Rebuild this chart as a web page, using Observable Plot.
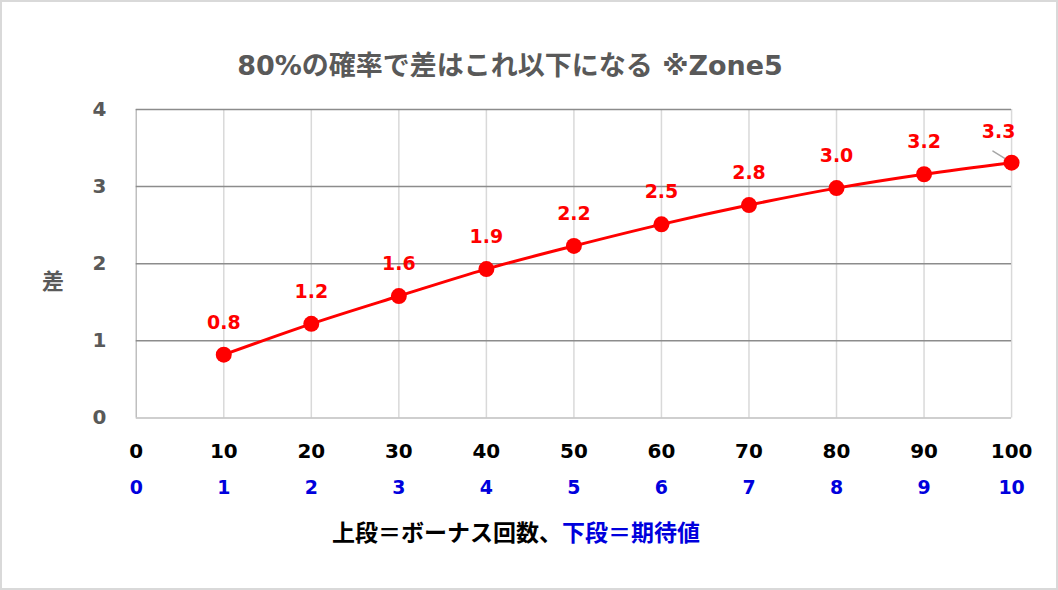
<!DOCTYPE html>
<html>
<head>
<meta charset="utf-8">
<script src="https://cdn.jsdelivr.net/npm/d3@7"></script>
<script src="https://cdn.jsdelivr.net/npm/@observablehq/plot@0.6"></script>
<style>
  html, body { margin: 0; padding: 0; background: #fff; }
  #wrap { position: relative; width: 1058px; height: 590px; box-sizing: border-box; border: 2px solid #d9d9d9; overflow: hidden;
    font-family: "DejaVu Sans", "Noto Sans CJK JP", sans-serif; font-weight: bold; }
  #title { position: absolute; left: 0; width: 1016px; top: 44px; text-align: center; font-size: 27px; color: #595959; line-height: 40px; }
  #ylabel { position: absolute; left: 40px; top: 261px; font-size: 22px; color: #595959; font-family: "Noto Sans CJK JP", sans-serif; }
  #chart { position: absolute; left: -2px; top: 88px; }
  #caption { position: absolute; left: 0; width: 1028px; top: 511px; text-align: center; font-size: 23px; line-height: 36px; font-family: "Noto Sans CJK JP", sans-serif; }
</style>
</head>
<body>
<div id="wrap">
  <div id="title">80%の確率で差はこれ以下になる ※Zone5</div>
  <div id="ylabel">差</div>
  <div id="chart"></div>
  <div id="caption"><span style="color:#000">上段＝ボーナス回数、</span><span style="color:#0000dd">下段＝期待値</span></div>
</div>
<script>
// ---- data ----
const bonusTicks = [0, 10, 20, 30, 40, 50, 60, 70, 80, 90, 100];   // 上段 = ボーナス回数
const expectedTicks = [0, 1, 2, 3, 4, 5, 6, 7, 8, 9, 10];          // 下段 = 期待値
const yTicks = [0, 1, 2, 3, 4];
const bonusCounts = [10, 20, 30, 40, 50, 60, 70, 80, 90, 100];
const diffValues = [0.82, 1.22, 1.58, 1.93, 2.23, 2.51, 2.76, 2.98, 3.16, 3.31];

const points = bonusCounts.map((b, i) => ({ x: b, y: diffValues[i], label: diffValues[i].toFixed(1) }));
const tickPairs = bonusTicks.map((b, i) => ({ x: b, e: expectedTicks[i] }));

const red = "#ff0000";
const font = `"DejaVu Sans", "Noto Sans CJK JP", sans-serif`;

const chart = Plot.plot({
  width: 1058,
  height: 420,
  marginTop: 19,
  marginBottom: 92,
  marginLeft: 136,
  marginRight: 45,
  x: { domain: [0, 100], axis: null },
  y: { domain: [0, 4], axis: null },
  style: { fontFamily: font, fontWeight: "bold", background: "transparent", overflow: "visible" },
  marks: [
    Plot.ruleX(bonusTicks.slice(1), { stroke: "#d9d9d9", strokeWidth: 1.5 }),
    Plot.ruleX([0], { stroke: "#bfbfbf", strokeWidth: 1.5 }),
    Plot.ruleY(yTicks.slice(1), { stroke: "#8c8c8c", strokeWidth: 1.5 }),
    Plot.ruleY([0], { stroke: "#bfbfbf", strokeWidth: 1.5 }),
    Plot.text(yTicks, { y: d => d, frameAnchor: "left", dx: -30, textAnchor: "end", text: d => String(d), fill: "#595959", fontSize: 20, fontWeight: "bold" }),
    Plot.text(tickPairs, { x: "x", frameAnchor: "bottom", dy: 40, text: d => String(d.x), fill: "#000", fontSize: 20, fontWeight: "bold" }),
    Plot.text(tickPairs, { x: "x", frameAnchor: "bottom", dy: 76, text: d => String(d.e), fill: "#0000dd", fontSize: 19, fontWeight: "bold" }),
    Plot.line(points, { x: "x", y: "y", stroke: red, strokeWidth: 3, curve: "catmull-rom" }),
    Plot.vector(points.slice(-1), { x: "x", y: "y", rotate: -58, length: 22, anchor: "start", stroke: "#a6a6a6", strokeWidth: 1.5, shape: { draw(ctx, l) { ctx.moveTo(0, 0); ctx.lineTo(0, -l); } } }),
    Plot.dot(points, { x: "x", y: "y", r: 8, fill: red }),
    Plot.text(points.slice(0, -1), { x: "x", y: "y", text: "label", dy: -32, fill: red, fontSize: 19, fontWeight: "bold" }),
    Plot.text(points.slice(-1), { x: "x", y: "y", text: "label", dx: -13, dy: -31, fill: red, fontSize: 19, fontWeight: "bold" })
  ]
});
document.getElementById("chart").appendChild(chart);
</script>
</body>
</html>
